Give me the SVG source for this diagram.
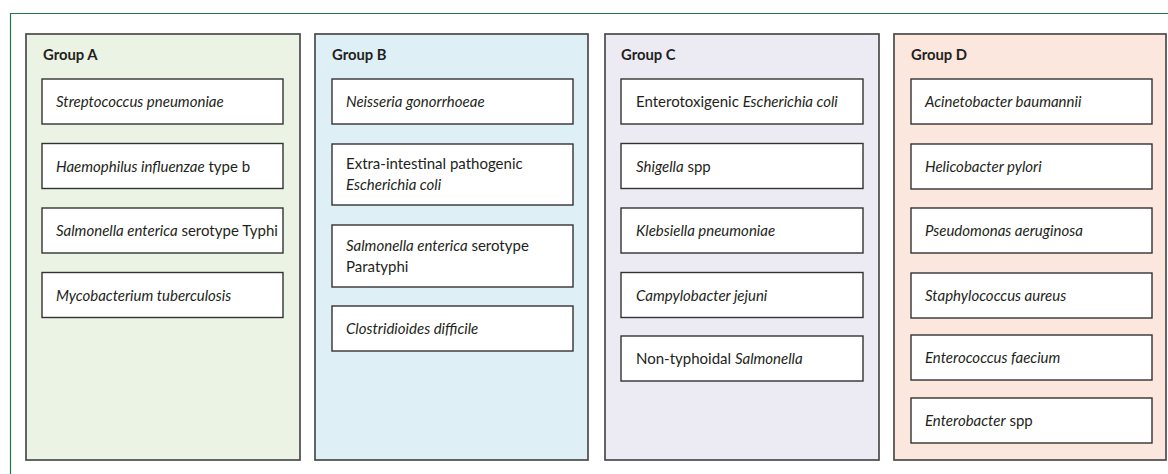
<svg xmlns="http://www.w3.org/2000/svg" width="1168" height="474" viewBox="0 0 1168 474">
<style>
.panel{stroke:#4a4a4a;stroke-width:1.7}
.box{fill:#ffffff;stroke:#333333;stroke-width:1.4}
.title{font-family:Lato,"Open Sans",sans-serif;font-weight:bold;font-size:14.8px;fill:#231f20}
.t{font-family:Lato,"Open Sans",sans-serif;font-size:15px;fill:#231f20}
.i{font-style:italic}
.frame{stroke:#1e7a4c;stroke-width:1.2;fill:none}
</style>
<rect width="1168" height="474" fill="#ffffff"/>
<path class="frame" d="M10.5,474 V13.5 H1168"/>

<g id="groupA">
<rect class="panel" x="26" y="34" width="274" height="426" fill="#ebf3e4"/>
<text class="title" x="43" y="60">Group A</text>
<g id="a1"><rect class="box" x="42" y="79" width="241" height="45"/><text class="t" x="56" y="107"><tspan class="i">Streptococcus pneumoniae</tspan></text></g>
<g id="a2"><rect class="box" x="42" y="143.5" width="241" height="45"/><text class="t" x="56" y="171.5"><tspan class="i">Haemophilus influenzae</tspan> type b</text></g>
<g id="a3"><rect class="box" x="42" y="208" width="241" height="45"/><text class="t" x="56" y="236"><tspan class="i">Salmonella enterica</tspan> serotype Typhi</text></g>
<g id="a4"><rect class="box" x="42" y="272.5" width="241" height="45"/><text class="t" x="56" y="300.5"><tspan class="i">Mycobacterium tuberculosis</tspan></text></g>
</g>

<g id="groupB">
<rect class="panel" x="315" y="34" width="273" height="426" fill="#dfeff6"/>
<text class="title" x="332" y="60">Group B</text>
<g id="b1"><rect class="box" x="332" y="79" width="241" height="45"/><text class="t" x="346" y="107"><tspan class="i">Neisseria gonorrhoeae</tspan></text></g>
<g id="b2"><rect class="box" x="332" y="144" width="241" height="61"/><text class="t" x="346" y="169">Extra-intestinal pathogenic</text><text class="t" x="346" y="190"><tspan class="i">Escherichia coli</tspan></text></g>
<g id="b3"><rect class="box" x="332" y="225" width="241" height="62"/><text class="t" x="346" y="251"><tspan class="i">Salmonella enterica</tspan> serotype</text><text class="t" x="346" y="272">Paratyphi</text></g>
<g id="b4"><rect class="box" x="332" y="306" width="241" height="45"/><text class="t" x="346" y="334"><tspan class="i">Clostridioides difficile</tspan></text></g>
</g>

<g id="groupC">
<rect class="panel" x="605" y="34" width="274" height="426" fill="#ecebf4"/>
<text class="title" x="621" y="60">Group C</text>
<g id="c1"><rect class="box" x="621" y="79" width="242" height="45"/><text class="t" x="636" y="107">Enterotoxigenic <tspan class="i">Escherichia coli</tspan></text></g>
<g id="c2"><rect class="box" x="621" y="143.5" width="242" height="45"/><text class="t" x="636" y="171.5"><tspan class="i">Shigella</tspan> spp</text></g>
<g id="c3"><rect class="box" x="621" y="208" width="242" height="45"/><text class="t" x="636" y="236"><tspan class="i">Klebsiella pneumoniae</tspan></text></g>
<g id="c4"><rect class="box" x="621" y="272.5" width="242" height="45"/><text class="t" x="636" y="300.5"><tspan class="i">Campylobacter jejuni</tspan></text></g>
<g id="c5"><rect class="box" x="621" y="336" width="242" height="45"/><text class="t" x="636" y="364">Non-typhoidal <tspan class="i">Salmonella</tspan></text></g>
</g>

<g id="groupD">
<rect class="panel" x="894" y="34" width="272" height="426" fill="#fbe7dd"/>
<text class="title" x="911" y="60">Group D</text>
<g id="d1"><rect class="box" x="911" y="79" width="241" height="45"/><text class="t" x="925" y="107"><tspan class="i">Acinetobacter baumannii</tspan></text></g>
<g id="d2"><rect class="box" x="911" y="144" width="241" height="45"/><text class="t" x="925" y="172"><tspan class="i">Helicobacter pylori</tspan></text></g>
<g id="d3"><rect class="box" x="911" y="208" width="241" height="45"/><text class="t" x="925" y="236"><tspan class="i">Pseudomonas aeruginosa</tspan></text></g>
<g id="d4"><rect class="box" x="911" y="273" width="241" height="45"/><text class="t" x="925" y="301"><tspan class="i">Staphylococcus aureus</tspan></text></g>
<g id="d5"><rect class="box" x="911" y="335" width="241" height="45"/><text class="t" x="925" y="363"><tspan class="i">Enterococcus faecium</tspan></text></g>
<g id="d6"><rect class="box" x="911" y="398" width="241" height="45"/><text class="t" x="925" y="426"><tspan class="i">Enterobacter</tspan> spp</text></g>
</g>

<g id="connectors"/>
</svg>
